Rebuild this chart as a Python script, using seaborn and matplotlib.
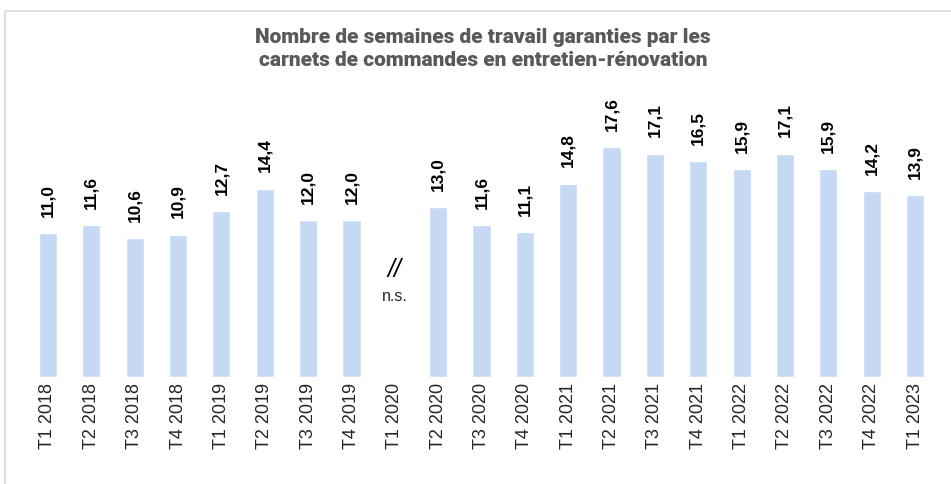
import numpy as np
import pandas as pd
import seaborn as sns
import matplotlib.pyplot as plt
from matplotlib.patches import Rectangle

# Trimestres et nombre de semaines (T1 2020 non significatif)
trimestres = ['T1 2018', 'T2 2018', 'T3 2018', 'T4 2018',
              'T1 2019', 'T2 2019', 'T3 2019', 'T4 2019',
              'T1 2020', 'T2 2020', 'T3 2020', 'T4 2020',
              'T1 2021', 'T2 2021', 'T3 2021', 'T4 2021',
              'T1 2022', 'T2 2022', 'T3 2022', 'T4 2022',
              'T1 2023']
semaines = [11.0, 11.6, 10.6, 10.9,
            12.7, 14.4, 12.0, 12.0,
            np.nan, 13.0, 11.6, 11.1,
            14.8, 17.6, 17.1, 16.5,
            15.9, 17.1, 15.9, 14.2,
            13.9]
trimestre_ns = 'T1 2020'

df = pd.DataFrame({'Trimestre': trimestres, 'Semaines': semaines})

sns.set_style('white')
plt.rcParams['font.family'] = ['Liberation Sans', 'DejaVu Sans']

fig = plt.figure(figsize=(9.51, 4.85), dpi=100)
ax = fig.add_axes([26.3 / 951, 107 / 485, 910.4 / 951, 261.4 / 485])

sns.barplot(data=df, x='Trimestre', y='Semaines', order=trimestres,
            color='#C5D9F5', saturation=1, width=0.42, ax=ax)

# Étiquettes de valeurs
for i, v in enumerate(semaines):
    if np.isnan(v):
        continue
    ax.annotate(f'{v:.1f}'.replace('.', ','), xy=(i, v), xytext=(0, 12.5),
                textcoords='offset points', rotation=90, ha='center', va='bottom',
                fontsize=12.5, fontweight='bold', color='black')

# Trimestre non significatif
i_ns = trimestres.index(trimestre_ns)
ax.text(i_ns, 8.3, '//', ha='center', va='center', fontsize=18,
        fontstyle='italic', color='black')
ax.text(i_ns, 6.2, 'n.s.', ha='center', va='center', fontsize=11.5, color='#262626')

ax.set_xlim(-0.5, len(trimestres) - 0.5)
ax.set_ylim(0, 20)
ax.set_xlabel('')
ax.set_ylabel('')
ax.set_yticks([])
ax.tick_params(axis='x', length=0, pad=3.5, labelsize=13, labelrotation=90)
sns.despine(ax=ax, left=True, bottom=True)

fig.text(483 / 951, 1 - 49 / 485,
         'Nombre de semaines de travail garanties par les\ncarnets de commandes en entretien-rénovation',
         ha='center', va='center', fontsize=15, fontweight='heavy',
         family=['Roboto', 'DejaVu Sans'], color='#595959', linespacing=1.25)

# Cadre du graphique
fig.patches.append(Rectangle((5 / 951, -0.1), 1.1, 1 - 12 / 485 + 0.1,
                             transform=fig.transFigure, fill=False,
                             edgecolor='#D9D9D9', linewidth=1.2))

fig.savefig('out.png', dpi=100)
